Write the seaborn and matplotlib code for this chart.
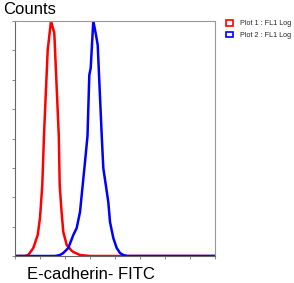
import matplotlib
matplotlib.use("Agg")
import matplotlib.pyplot as plt
import seaborn as sns
import pandas as pd
import numpy as np
from matplotlib.patches import Patch

# Red histogram (Plot 1 : FL1 Log)
red_x = [0, 10, 13.3, 18.3, 22.7, 25, 27.3, 29, 32.7, 36,
         39.3, 43.8, 44.7, 46.5, 48.3, 51.7, 56, 58.3, 65, 75, 200]
red_y = [0, 0, 1, 8, 21, 38, 71, 121, 206, 235,
         223, 120, 71, 45, 24, 11, 6, 4, 1, 0, 0]
# Blue histogram (Plot 2 : FL1 Log)
blue_x = [0, 40, 45, 48.3, 53.3, 58.3, 61.7, 65, 67.7, 70, 72.5, 74.3, 75.7, 78.3,
          81, 82.7, 86.7, 88.3, 93.3, 95, 98.3, 101.7, 105, 108.3, 112, 200]
blue_y = [0, 0, 1, 3, 8, 21, 28, 44, 71, 94, 120, 181, 188, 235,
          221, 211, 121, 88, 54, 34, 18, 8, 3, 1, 0, 0]
labels = ["Plot 1 : FL1 Log", "Plot 2 : FL1 Log"]
colors = ["#ff0000", "#0000ff"]

df = pd.concat([
    pd.DataFrame({"x": red_x, "y": red_y, "s": labels[0]}),
    pd.DataFrame({"x": blue_x, "y": blue_y, "s": labels[1]}),
])

sns.set_style("white")
plt.rcParams["font.family"] = ["Liberation Sans", "DejaVu Sans"]

fig = plt.figure(figsize=(2.94, 2.83), dpi=100)
ax = fig.add_axes([15/294, 27/283, 200/294, 235/283])
sns.lineplot(data=df, x="x", y="y", hue="s", palette=colors, sort=False,
             linewidth=1.8, ax=ax, legend=False, estimator=None)
ax.set_xlim(0, 200)
ax.set_ylim(0, 235)
ax.set_xticks(np.linspace(0, 200, 9))
ax.set_yticks(np.linspace(0, 235, 9))
ax.set_xticklabels([])
ax.set_yticklabels([])
ax.tick_params(axis="both", direction="out", length=2.5, width=0.6, color="#777777",
               bottom=True, left=True)
ax.set_xlabel("")
ax.set_ylabel("")
for side in ["left", "bottom"]:
    ax.spines[side].set_color("#666666")
    ax.spines[side].set_linewidth(0.8)
for side in ["top", "right"]:
    ax.spines[side].set_color("#999999")
    ax.spines[side].set_linewidth(0.8)

fig.text(3/294, 1 - 13.5/283, "Counts", fontsize=12, color="black")
fig.text(27/294, 1 - 279/283, "E-cadherin- FITC", fontsize=12, color="black")

handles = [Patch(facecolor="#ffffff", edgecolor=c, linewidth=1.2) for c in colors]
fig.legend(handles, labels, loc="upper left", bbox_to_anchor=(226/294, 1 - 20/283),
           frameon=False, fontsize=5.2, handlelength=0.9, handleheight=0.8,
           handletextpad=1.0, labelspacing=0.6, borderaxespad=0, borderpad=0)

fig.savefig("out.png", dpi=100)
